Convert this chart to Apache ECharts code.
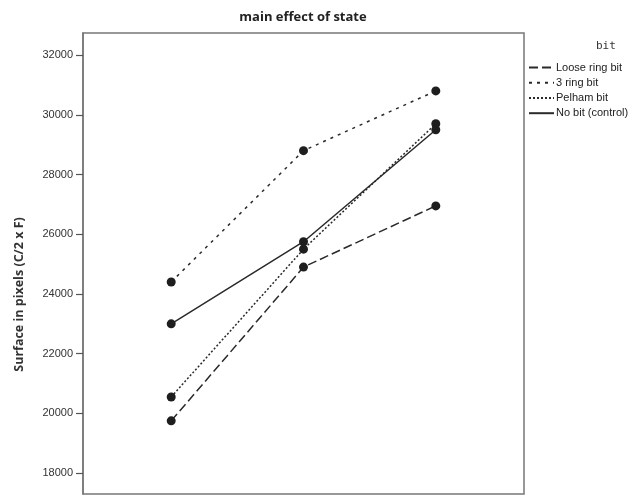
<!DOCTYPE html>
<html>
<head>
<meta charset="utf-8">
<script src="https://cdn.jsdelivr.net/npm/echarts@6/dist/echarts.min.js"></script>
<style>html,body{margin:0;padding:0;background:#fff;}#c{width:637px;height:496px;}</style>
</head>
<body>
<div id="c"></div>
<script>
var statePositions = [1, 2, 3];
var seriesNames = ['Loose ring bit', '3 ring bit', 'Pelham bit', 'No bit (control)'];
var looseRing = [19750, 24900, 26950];
var threeRing = [24400, 28800, 30800];
var pelham = [20550, 25500, 29700];
var noBit = [23000, 25750, 29500];
var yTicks = [18000, 20000, 22000, 24000, 26000, 28000, 30000, 32000];

var allValues = [looseRing, threeRing, pelham, noBit];
var dashes = [[9, 4], [3, 5], [2, 2], 'solid'];

function pairs(vals) {
  return vals.map(function (v, i) { return [statePositions[i], v]; });
}

var series = seriesNames.map(function (name, k) {
  return {
    name: name,
    type: 'line',
    data: pairs(allValues[k]),
    symbol: 'circle',
    symbolSize: 9,
    itemStyle: { color: '#1e1e1e' },
    lineStyle: { color: '#2a2a2a', width: 1.5, type: dashes[k] },
    z: 3
  };
});

var chart = echarts.init(document.getElementById('c'), null, { renderer: 'canvas' });
chart.setOption({
  animation: false,
  backgroundColor: '#ffffff',
  title: {
    text: 'main effect of state',
    left: 298, top: 6, textAlign: 'center',
    textStyle: { fontFamily: 'Open Sans', fontWeight: 'bold', fontSize: 13, color: '#222' }
  },
  legend: {
    left: 528, top: 62, orient: 'vertical', padding: 0,
    itemWidth: 25, itemHeight: 14, itemGap: 4,
    data: seriesNames,
    itemStyle: { opacity: 0 },
    textStyle: { fontFamily: 'Liberation Sans', fontSize: 11, color: '#222', padding: [0, 0, 0, -3] }
  },
  graphic: [{
    type: 'text', left: 596, top: 41,
    style: { text: 'bit', font: '11px "DejaVu Sans Mono"', fill: '#333' }
  }],
  grid: {
    left: 83, right: 113, top: 33, bottom: 2,
    show: true, borderColor: '#777', borderWidth: 1.5, backgroundColor: '#fff'
  },
  xAxis: {
    type: 'value', min: 1 / 3, max: 11 / 3,
    axisLine: { show: false }, splitLine: { show: false },
    axisTick: { show: false }, axisLabel: { show: false }
  },
  yAxis: {
    type: 'value', min: 17300, max: 32740,
    name: 'Surface in pixels (C/2 x F)', nameLocation: 'middle', nameGap: 57,
    nameTextStyle: { fontFamily: 'Open Sans', fontWeight: 'bold', fontSize: 12.5, color: '#333', padding: [0, 62, 0, 0] },
    axisLine: { show: true, lineStyle: { color: '#777', width: 1.5 } },
    splitLine: { show: false },
    axisTick: { show: true, length: 7, customValues: yTicks, lineStyle: { color: '#555', width: 1.2 } },
    axisLabel: {
      customValues: yTicks, margin: 10, fontFamily: 'Liberation Sans', fontSize: 11, color: '#333',
      formatter: function (v) { return String(v); }
    }
  },
  series: series
});
</script>
</body>
</html>
